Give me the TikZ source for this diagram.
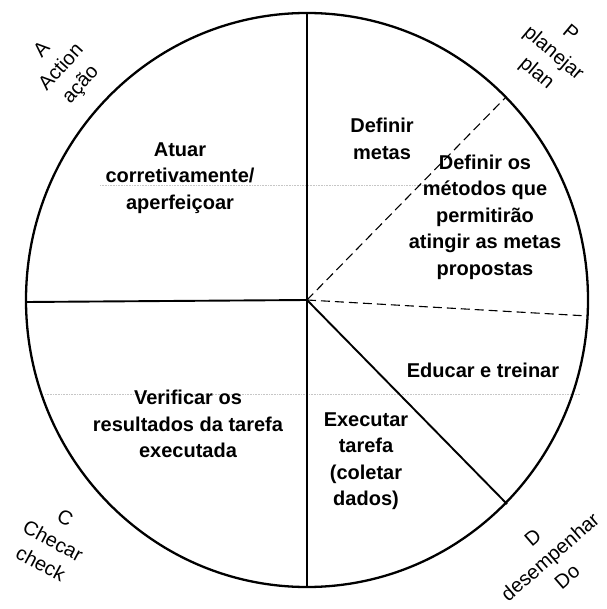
\documentclass[tikz,border=0pt]{standalone}
\usepackage{fontspec}
\setmainfont{Liberation Sans}
\usetikzlibrary{positioning}

\begin{document}
\begin{tikzpicture}[
  x=1pt, y=-1pt,
  font=\fontsize{20}{26}\selectfont,
  task/.style={align=center, inner sep=1pt, font=\fontsize{20}{26.5}\selectfont\bfseries},
  corner/.style={align=center, inner sep=1pt},
  rim/.style={line width=2.3pt},
  split/.style={line width=1.9pt},
  guide/.style={line width=1.1pt, dash pattern=on 9pt off 5pt},
  faint/.style={gray!45, densely dotted, line width=0.6pt}
]
\useasboundingbox (0,0) rectangle (606,609);

% circle and its sectors
\coordinate (O)  at (307,300);
\coordinate (N)  at (307,13);
\coordinate (S)  at (307,587);
\coordinate (W)  at (26,302);
\coordinate (NE) at (506,97);
\coordinate (E)  at (588,316);
\coordinate (SE) at (507,504);
\coordinate (fu1) at (100,185);
\coordinate (fu2) at (440,185);
\coordinate (fl1) at (45,394);
\coordinate (fl2) at (580,394);

\draw[faint] (fu1) -- (fu2);
\draw[faint] (fl1) -- (fl2);

\draw[rim] (O) ellipse [x radius=281pt, y radius=287pt];
\draw[split] (N) -- (S);
\draw[split] (W) -- (O);
\draw[split] (O) -- (SE);
\draw[guide] (O) -- (NE);
\draw[guide] (O) -- (E);

% texts inside the sectors
\node[task] (metas)   at (382,139) {Definir\\metas};
\node[task] (metodos) at (485,217) {Definir os\\métodos que\\permitirão\\atingir as metas\\propostas};
\node[task] (educar)  at (483,370) {Educar e treinar};
\node[task] (exec)    at (366,461) {Executar\\tarefa\\(coletar\\dados)};
\node[task] (verif)   at (188,424) {Verificar os\\resultados da tarefa\\executada};
\node[task] (atuar)   at (180,178) {Atuar\\corretivamente/\\aperfeiçoar};

% PDCA labels outside the circle
\node[corner, rotate=48]  (act)   at (62,68)   {A\\Action\\ação};
\node[corner, rotate=-40] (plan)  at (553,54)  {P\\planejar\\plan};
\node[corner, rotate=-28] (check) at (53,541)  {C\\Checar\\check};
\node[corner, rotate=41]  (do)    at (550,557) {D\\desempenhar\\Do};
\end{tikzpicture}
\end{document}
